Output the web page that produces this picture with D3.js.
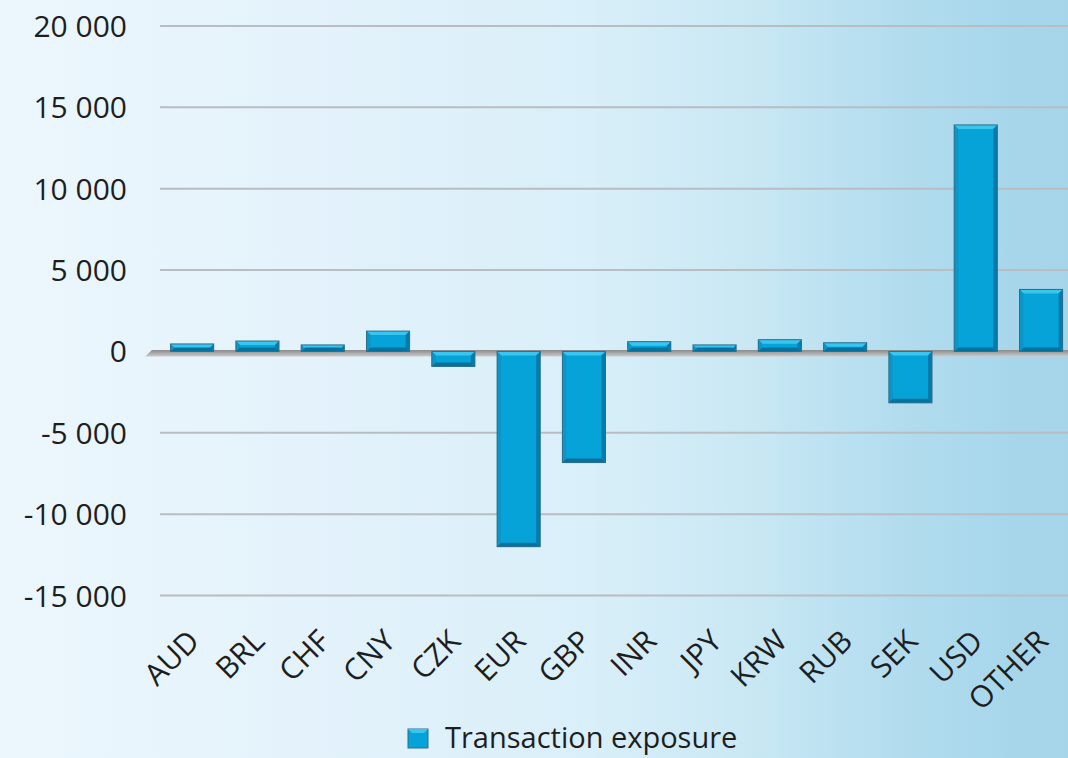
<!DOCTYPE html>
<html lang="en">
<head>
<meta charset="UTF-8">
<title>Transaction exposure</title>
<script src="https://d3js.org/d3.v7.min.js"></script>
<style>
  body { margin: 0; overflow: hidden; }
  text { font-family: "Open Sans", sans-serif; fill: #1e1e1e; }
</style>
</head>
<body>
<svg width="1068" height="758"></svg>
<script>
// Chart data
const currencies = ["AUD", "BRL", "CHF", "CNY", "CZK", "EUR", "GBP", "INR", "JPY", "KRW", "RUB", "SEK", "USD", "OTHER"];
const exposure = [460, 640, 400, 1250, -920, -12000, -6830, 600, 400, 720, 530, -3160, 13920, 3810];
const yTicks = [20000, 15000, 10000, 5000, 0, -5000, -10000, -15000];
const seriesName = "Transaction exposure";

const W = 1068, H = 758;
const svg = d3.select("svg");

// background gradient
const defs = svg.append("defs");
const bg = defs.append("linearGradient").attr("id", "bg");
[[0, "#ecf7fd"], [0.3, "#e3f2fb"], [0.55, "#d9eff9"], [0.7, "#c9e8f4"], [0.85, "#b1dcee"], [0.95, "#a7d6eb"], [1, "#a6d5ea"]]
  .forEach(s => bg.append("stop").attr("offset", s[0]).attr("stop-color", s[1]));
const floor = defs.append("linearGradient").attr("id", "floor").attr("x1", 0).attr("x2", 0).attr("y1", 0).attr("y2", 1);
floor.append("stop").attr("offset", 0).attr("stop-color", "#8a8a8a");
floor.append("stop").attr("offset", 1).attr("stop-color", "#cacaca");

svg.append("rect").attr("width", W).attr("height", H).attr("fill", "url(#bg)");

const x = d3.scaleBand()
    .domain(currencies)
    .range([159.5, 1073.7])
    .paddingInner(0.34)
    .paddingOuter(0.17);

const y = d3.scaleLinear()
    .domain([-15000, 20000])
    .range([595.5, 26]);

const fmt = d3.formatLocale({decimal: ",", thousands: " ", grouping: [3], currency: ["", ""], minus: "-"}).format(",");

// gridlines
svg.append("g")
  .selectAll("line")
  .data(yTicks.filter(d => d !== 0))
  .join("line")
    .attr("x1", 160).attr("x2", W)
    .attr("y1", d => y(d)).attr("y2", d => y(d))
    .attr("stroke", "#b9bcc0")
    .attr("stroke-width", 2);

// y labels
svg.append("g")
  .selectAll("text")
  .data(yTicks)
  .join("text")
    .attr("x", 127)
    .attr("y", d => y(d) + 11)
    .attr("text-anchor", "end")
    .style("font-size", "30px")
    .text(d => fmt(d));

// zero floor
const y0 = y(0);
svg.append("polygon")
  .attr("points", [[152, y0 - 1.5], [W, y0 - 1.5], [W, y0 + 5], [145, y0 + 5]].join(" "))
  .attr("fill", "url(#floor)");

// bars with bevel
const b = 4;
const bars = svg.append("g")
  .selectAll("g")
  .data(currencies.map((c, i) => ({c, v: exposure[i]})))
  .join("g");

bars.each(function(d) {
  const g = d3.select(this);
  const x0 = x(d.c), x1 = x0 + x.bandwidth();
  const t = Math.min(y(d.v), y0), btm = Math.max(y(d.v), y0);
  g.append("rect")
    .attr("x", x0).attr("y", t)
    .attr("width", x1 - x0).attr("height", btm - t)
    .attr("fill", "#06a3d9");
  const faces = [
    {p: [[x0, t], [x1, t], [x1 - b, t + b], [x0 + b, t + b]], f: "#38c6f1"},
    {p: [[x0, t], [x0 + b, t + b], [x0 + b, btm - b], [x0, btm]], f: "#0b95c8"},
    {p: [[x1, t], [x1, btm], [x1 - b, btm - b], [x1 - b, t + b]], f: "#067bab"},
    {p: [[x0, btm], [x0 + b, btm - b], [x1 - b, btm - b], [x1, btm]], f: "#04729e"}
  ];
  faces.forEach(fc => g.append("polygon").attr("points", fc.p.join(" ")).attr("fill", fc.f));
  g.append("rect")
    .attr("x", x0).attr("y", t)
    .attr("width", x1 - x0).attr("height", btm - t)
    .attr("fill", "none")
    .attr("stroke", "#2d6e88")
    .attr("stroke-width", 1);
});

// x labels
svg.append("g")
  .selectAll("text")
  .data(currencies)
  .join("text")
    .attr("text-anchor", "end")
    .attr("transform", d => `translate(${x(d) + x.bandwidth() / 2 + 9},${643}) rotate(-45)`)
    .style("font-size", "30px")
    .text(d => d);

// legend
const lg = svg.append("g").attr("transform", "translate(408,729)");
lg.append("rect").attr("width", 20).attr("height", 19).attr("fill", "#06a3d9").attr("stroke", "#2d6e88");
lg.append("polygon").attr("points", "0,0 20,0 16,4 4,4").attr("fill", "#38c6f1");
lg.append("text")
  .attr("x", 37).attr("y", 19)
  .style("font-size", "29px")
  .text(seriesName);
</script>
</body>
</html>
